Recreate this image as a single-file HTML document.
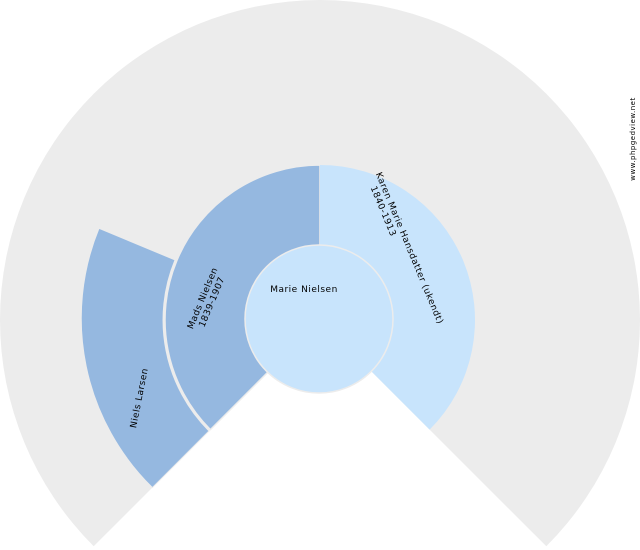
<!DOCTYPE html>
<html><head><meta charset="utf-8"><style>
html,body{margin:0;padding:0;background:#fff;width:640px;height:550px;overflow:hidden}
text{font-family:"DejaVu Sans",sans-serif;fill:#000;letter-spacing:0.5px}
</style></head><body>
<svg width="640" height="550" viewBox="0 0 640 550" xmlns="http://www.w3.org/2000/svg">
<path d="M320,320 L93.7,546.3 A320,320 0 1 1 546.3,546.3 Z" fill="#ececec"/>
<path d="M152.4,487.6 A237,237 0 0 1 99,228.3 L175,259.9 A157,157 0 0 0 209,431 Z" fill="#95b8e0" stroke="#ececec" stroke-width="1"/>
<path d="M320,320 L210.4,429.6 A155,155 0 0 1 320,165 Z" fill="#95b8e0" stroke="#ececec" stroke-width="1.5"/>
<path d="M320,320 L320,165 A155,155 0 0 1 429.6,429.6 Z" fill="#c8e4fc"/>
<circle cx="319" cy="319" r="74" fill="#c8e4fc" stroke="#ececec" stroke-width="1.5"/>
<text x="304" y="292" font-size="9" text-anchor="middle">Marie Nielsen</text>
<g transform="translate(207,300) rotate(-67.5)">
<text x="0" y="-2" font-size="9" text-anchor="middle">Mads Nielsen</text>
<text x="0" y="8" font-size="9" text-anchor="middle">1839-1907</text>
</g>
<g transform="translate(405,250) rotate(67.5)">
<text x="0" y="-2" font-size="9" text-anchor="middle">Karen Marie Hansdatter (ukendt)</text>
<text x="-44" y="8" font-size="9" text-anchor="middle">1840-1913</text>
</g>
<g transform="translate(139,398) rotate(-78.75)">
<text x="0" y="3" font-size="9" text-anchor="middle">Niels Larsen</text>
</g>
<g transform="translate(635,139) rotate(-90)">
<text x="0" y="0" font-size="7" text-anchor="middle">www.phpgedview.net</text>
</g>
</svg>
</body></html>
